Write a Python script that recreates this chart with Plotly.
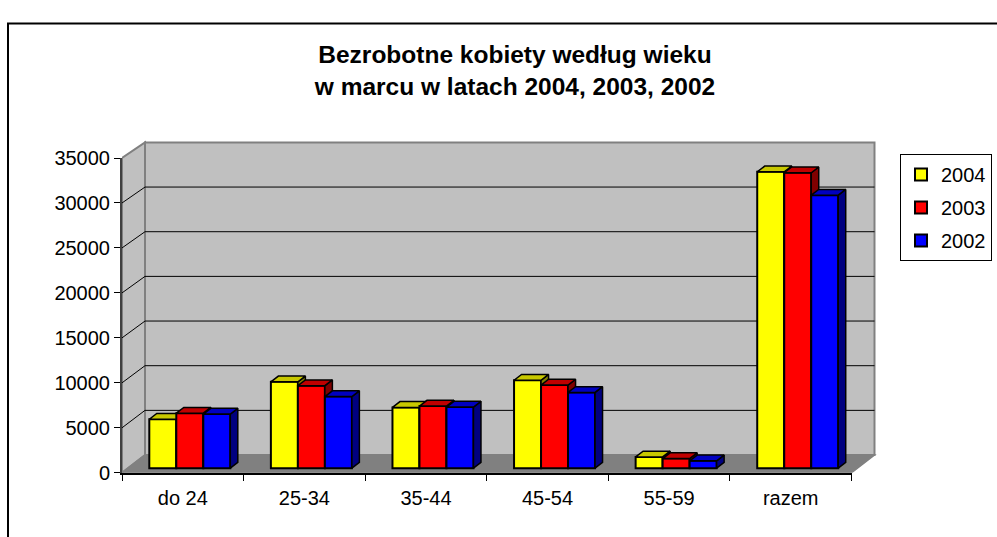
import plotly.graph_objects as go

# ---------------- data ----------------
categories = ["do 24", "25-34", "35-44", "45-54", "55-59", "razem"]
years = ["2004", "2003", "2002"]
vals_2004 = [5440, 9600, 6760, 9780, 1250, 32950]
vals_2003 = [6120, 9170, 6900, 9245, 1070, 32850]
vals_2002 = [6015, 7965, 6790, 8425, 820, 30360]
y_ticks = [0, 5000, 10000, 15000, 20000, 25000, 30000, 35000]

series = [vals_2004, vals_2003, vals_2002]
front_colors = ["#FFFF00", "#FF0000", "#0000FF"]
top_colors = ["#C8C800", "#C00000", "#0000C0"]
side_colors = ["#808000", "#800000", "#000080"]

# ---------------- geometry (pixels) ----------------
W, H = 997, 537
FL, FR, FB, FT = 122.0, 851.5, 481.5, 153.3      # front plane
BOX_RIGHT, BOX_TOP = 877.0, 133.0
CAT_PX = (FR - FL) / 6
UNIT_PX = (FB - FT) / 35000
DX = 23.0 / CAT_PX          # depth offset of back wall (x units)
DY = 18.5 / UNIT_PX         # depth offset of back wall (y units)
BS = 326.0 / 328.2          # back wall vertical scale (perspective)
BASE = (FB - 476.7) / UNIT_PX
BAR_W = 27.0 / CAT_PX
BDX = 7.5 / CAT_PX
BDY = 6.0 / UNIT_PX
first_left = (149.3 - (FL + CAT_PX / 2)) / CAT_PX
offsets = [first_left + i * BAR_W for i in range(3)]

xr = [-0.5, -0.5 + (BOX_RIGHT - FL) / CAT_PX]
yr = [0, (FB - BOX_TOP) / UNIT_PX]
xdom = [FL / W, BOX_RIGHT / W]
ydom = [(H - FB) / H, (H - BOX_TOP) / H]

FONT = "Liberation Sans, Arial, sans-serif"
fig = go.Figure()

axis_pairs = [("x", "y"), ("x2", "y2"), ("x3", "y3")]
for s, vals in enumerate(series):
    xa, ya = axis_pairs[s]
    xs = list(range(len(categories)))
    fig.add_trace(go.Bar(
        x=xs, y=vals, base=BASE, width=BAR_W, offset=offsets[s],
        marker=dict(color=front_colors[s], line=dict(color="black", width=2)),
        name=years[s], legendgroup=years[s], xaxis=xa, yaxis=ya,
        hovertext=categories, hoverinfo="text+y",
    ))
    tx, ty, sx, sy = [], [], [], []
    for i, v in enumerate(vals):
        x0 = i + offsets[s]
        x1 = x0 + BAR_W
        top = BASE + v
        tx += [x0, x1, x1 + BDX, x0 + BDX, x0, None]
        ty += [top, top, top + BDY, top + BDY, top, None]
        sx += [x1, x1, x1 + BDX, x1 + BDX, x1, None]
        sy += [BASE, top, top + BDY, BASE + BDY, BASE, None]
    fig.add_trace(go.Scatter(x=sx, y=sy, fill="toself", fillcolor=side_colors[s],
                             mode="lines", line=dict(color="black", width=1.5),
                             showlegend=False, hoverinfo="skip", xaxis=xa, yaxis=ya))
    fig.add_trace(go.Scatter(x=tx, y=ty, fill="toself", fillcolor=top_colors[s],
                             mode="lines", line=dict(color="black", width=1.5),
                             showlegend=False, hoverinfo="skip", xaxis=xa, yaxis=ya))

# front axes carrier (invisible)
fig.add_trace(go.Scatter(x=categories, y=vals_2004, mode="markers",
                         marker=dict(opacity=0), showlegend=False, hoverinfo="skip",
                         xaxis="x4", yaxis="y4"))

# ---------------- 3D box decorations ----------------
shapes = []
top_v = y_ticks[-1]
bx0, bx1 = -0.5 + DX, 5.5 + DX
shapes.append(dict(type="rect", xref="x", yref="y", x0=bx0, x1=bx1, y0=DY, y1=DY + top_v * BS,
                   fillcolor="#C0C0C0", line=dict(color="#808080", width=2), layer="below"))
shapes.append(dict(type="path", xref="x", yref="y",
                   path=f"M {-0.5},{0} L {-0.5},{top_v} L {bx0},{DY + top_v * BS} L {bx0},{DY} Z",
                   fillcolor="#C0C0C0", line=dict(color="#808080", width=2), layer="below"))
shapes.append(dict(type="path", xref="x", yref="y",
                   path=f"M {-0.5},{0} L {5.5},{0} L {bx1},{DY} L {bx0},{DY} Z",
                   fillcolor="#808080", line=dict(color="#808080", width=1.5), layer="below"))
for v in y_ticks[1:-1]:
    yb = DY + v * BS
    shapes.append(dict(type="line", xref="x", yref="y", x0=bx0, x1=bx1, y0=yb, y1=yb,
                       line=dict(color="black", width=1), layer="below"))
    shapes.append(dict(type="line", xref="x", yref="y", x0=-0.5, x1=bx0, y0=v, y1=yb,
                       line=dict(color="black", width=1), layer="below"))
# outer border
shapes.append(dict(type="rect", xref="paper", yref="paper", x0=8 / W, x1=1.05, y0=-0.05, y1=1 - 13 / H,
                   line=dict(color="black", width=2), fillcolor="rgba(0,0,0,0)"))

hidden = dict(visible=False, showgrid=False, zeroline=False)
fig.update_layout(
    width=W, height=H, autosize=False,
    margin=dict(l=0, r=0, t=0, b=0),
    paper_bgcolor="white", plot_bgcolor="rgba(0,0,0,0)",
    barmode="overlay",
    font=dict(family=FONT, color="black", size=20),
    title=dict(text="Bezrobotne kobiety według wieku<br>w marcu w latach 2004, 2003, 2002",
               x=515 / W, xanchor="center", y=1 - 63 / H, yanchor="middle", yref="container",
               font=dict(family=FONT, size=24.5, weight="bold", color="black")),
    xaxis=dict(domain=xdom, range=xr, anchor="y", **hidden),
    yaxis=dict(domain=ydom, range=yr, anchor="x", **hidden),
    xaxis2=dict(range=xr, overlaying="x", anchor="y2", **hidden),
    yaxis2=dict(range=yr, overlaying="y", anchor="x2", **hidden),
    xaxis3=dict(range=xr, overlaying="x", anchor="y3", **hidden),
    yaxis3=dict(range=yr, overlaying="y", anchor="x3", **hidden),
    xaxis4=dict(domain=[FL / W, FR / W], anchor="y4", type="category", range=[-0.5, 5.5],
                categoryorder="array", categoryarray=categories,
                tickson="boundaries", ticks="outside", ticklen=6, tickcolor="black", tickwidth=1,
                showline=True, linecolor="black", linewidth=2, showgrid=False, zeroline=False,
                tickfont=dict(size=20), ticklabelstandoff=6, fixedrange=True),
    yaxis4=dict(domain=[(H - FB) / H, (H - FT) / H], anchor="x4", range=[0, 35000],
                tickvals=y_ticks, tickformat="d", ticks="outside", ticklen=6,
                tickcolor="black", tickwidth=1, showline=True, linecolor="#404040", linewidth=2,
                showgrid=False, zeroline=False, tickfont=dict(size=20), fixedrange=True),
    legend=dict(x=992 / W, y=1 - 149 / H, xanchor="right", yanchor="top",
                bordercolor="black", borderwidth=1, bgcolor="white",
                font=dict(size=20), tracegroupgap=4, traceorder="grouped"),
    shapes=shapes,
    showlegend=True,
)

fig.write_html("out.html", config={"responsive": False, "displayModeBar": False},
               post_script="document.body.style.margin='0';document.body.style.overflow='hidden';")
